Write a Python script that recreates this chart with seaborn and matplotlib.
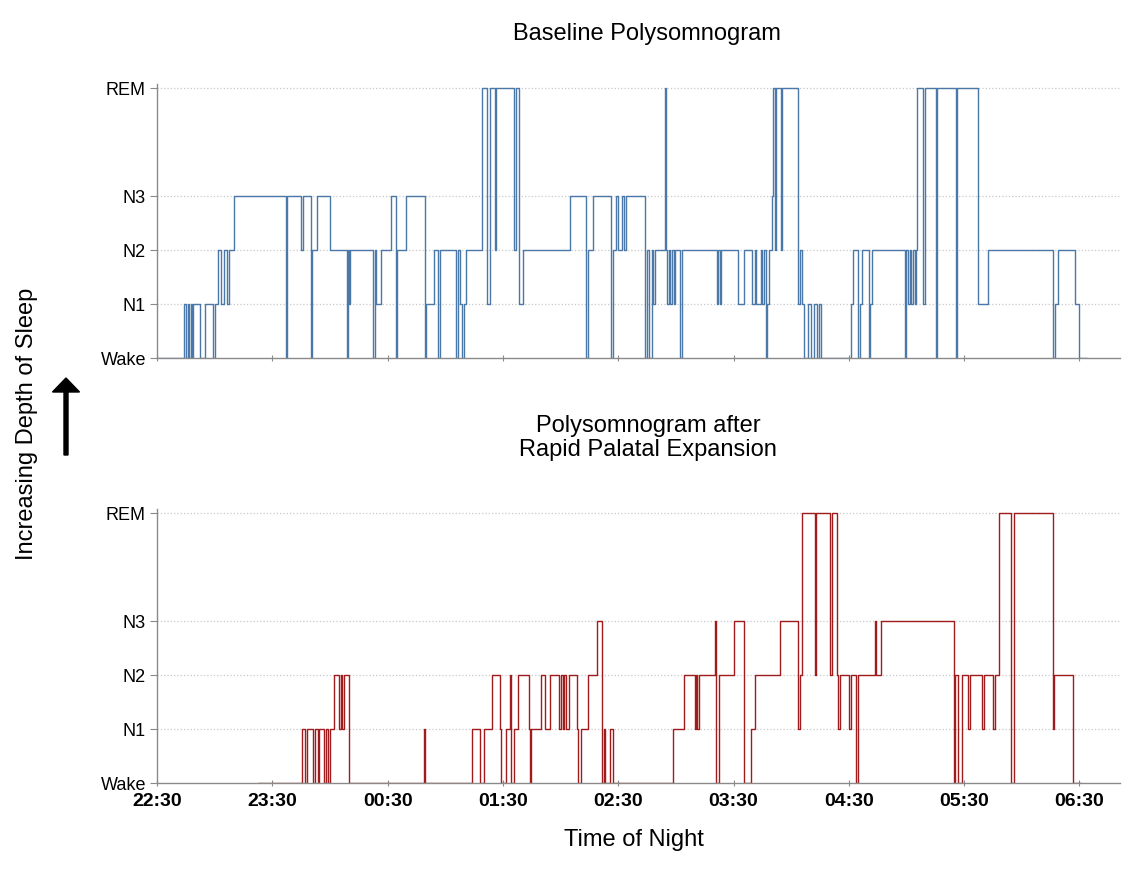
import pandas as pd
import numpy as np
import matplotlib
matplotlib.use("Agg")
import matplotlib.pyplot as plt
import seaborn as sns

# stage order on the y axis (REM sits two steps above N3)
stage_names = ["Wake", "N1", "N2", "N3", "REM"]
stage_pos = {"Wake": 0, "N1": 1, "N2": 2, "N3": 3, "REM": 5}

# minutes after 22:30 where each stage begins (last entry = end of record)
base_t = [0, 13.9, 15.1, 15.9, 16.8, 17.5, 18.2, 18.9, 22.4, 25.0, 29.3, 30.3, 31.9, 33.1,
          34.8, 36.2, 37.6, 40.0, 66.9, 67.6, 74.9, 75.7, 80.1, 80.8, 83.0, 90.0, 98.8, 99.4,
          100.0, 100.6, 112.3, 113.2, 114.2, 116.3, 121.5, 124.3, 125.1, 129.5, 139.2, 140.1,
          143.9, 146.3, 147.5, 155.8, 156.5, 157.6, 158.8, 159.5, 161.0, 169.2, 171.6, 173.3,
          175.8, 176.5, 185.8, 186.7, 188.6, 190.3, 214.9, 223.4, 224.3, 226.9, 236.4, 237.3,
          239.0, 239.9, 242.1, 243.2, 244.2, 254.1, 255.0, 256.0, 257.4, 258.3, 259.1, 264.5,
          264.9, 265.5, 266.4, 267.1, 267.8, 268.8, 269.5, 272.3, 273.3, 291.5, 292.1, 292.8,
          293.3, 302.5, 305.6, 309.7, 311.0, 311.8, 314.3, 314.9, 315.6, 316.7, 317.4, 318.2,
          320.0, 320.7, 321.4, 322.1, 324.8, 325.3, 333.8, 334.5, 335.7, 336.9, 339.0, 340.4,
          342.1, 343.4, 344.4, 345.5, 361.2, 362.1, 364.7, 365.6, 366.8, 370.4, 371.1, 372.0,
          389.0, 389.8, 390.7, 391.6, 392.4, 393.3, 394.2, 394.9, 395.5, 398.5, 399.4, 405.4,
          406.0, 415.7, 416.3, 427.1, 432.3, 466.4, 467.3, 469.0, 477.7, 479.8, 484.0]
base_s = ["Wake", "N1", "Wake", "N1", "Wake", "N1", "Wake", "N1", "Wake", "N1", "Wake", "N1", "N2", "N1",
          "N2", "N1", "N2", "N3", "Wake", "N3", "N2", "N3", "Wake", "N2", "N3", "N2", "Wake", "N2",
          "N1", "N2", "Wake", "N2", "N1", "N2", "N3", "Wake", "N2", "N3", "Wake", "N1",
          "N2", "Wake", "N2", "Wake", "N2", "N1", "Wake", "N1", "N2", "REM", "N1", "REM",
          "N2", "REM", "N2", "REM", "N1", "N2", "N3", "Wake", "N2", "N3", "Wake", "N2",
          "N3", "N2", "N3", "N2", "N3", "Wake", "N2", "Wake", "N2", "N1", "N2", "REM",
          "N2", "N1", "N2", "N1", "N2", "N1", "N2", "Wake", "N2", "N1", "N2", "N1",
          "N2", "N1", "N2", "N1", "N2", "N1", "N2", "N1", "N2", "Wake", "N1", "N2",
          "N3", "REM", "N2", "REM", "N2", "REM", "N1", "N2", "N1", "Wake", "N1", "Wake",
          "N1", "Wake", "N1", "Wake", "N1", "N2", "Wake", "N1", "N2", "Wake", "N1", "N2",
          "Wake", "N2", "N1", "N2", "N1", "N2", "N1", "N2", "REM", "N1", "REM", "Wake",
          "REM", "Wake", "REM", "N1", "N2", "Wake", "N1", "N2", "N1", "Wake", "Wake"]

rpe_t = [52.7, 75.2, 77.0, 77.8, 81.3, 82.2, 83.5, 84.4, 87.0, 87.9, 89.1, 90.0, 92.2, 94.8,
         95.7, 96.5, 97.4, 100.0, 139.0, 139.7, 164.1, 168.0, 170.1, 174.4, 178.4, 179.1, 181.5,
         183.6, 184.4, 185.5, 187.9, 193.4, 194.1, 194.8, 200.0, 201.8, 204.4, 209.2, 210.4,
         211.3, 211.8, 212.7, 214.4, 218.6, 219.1, 220.8, 224.3, 229.1, 231.6, 232.4, 233.3,
         235.6, 237.3, 268.5, 274.0, 279.8, 280.5, 281.1, 281.8, 290.5, 291.0, 292.4, 300.4,
         305.6, 308.9, 311.3, 324.3, 333.8, 334.4, 335.6, 342.2, 342.9, 350.3, 351.0, 353.8,
         354.5, 355.2, 360.2, 360.9, 363.8, 364.7, 373.4, 374.2, 376.8, 414.6, 415.5, 416.7,
         418.8, 421.9, 422.8, 429.3, 430.2, 434.9, 435.8, 438.4, 444.4, 445.8, 466.3, 467.0,
         476.8, 481.0]
rpe_s = ["Wake", "N1", "Wake", "N1", "Wake", "N1", "Wake", "N1", "Wake", "N1", "Wake", "N1", "N2", "N1",
         "N2", "N1", "N2", "Wake", "N1", "Wake", "N1", "Wake", "N1", "N2", "N1", "Wake", "N1",
         "N2", "Wake", "N1", "N2", "N1", "Wake", "N1", "N2", "N1", "N2", "N1", "N2",
         "N1", "N2", "N1", "N2", "N1", "Wake", "N1", "N2", "N3", "Wake", "N1", "Wake",
         "N1", "Wake", "N1", "N2", "N1", "N2", "N1", "N2", "N3", "Wake", "N2", "N3",
         "Wake", "N1", "N2", "N3", "N1", "N2", "REM", "N2", "REM", "N2", "REM", "N2",
         "N1", "N2", "N1", "N2", "Wake", "N2", "N3", "N2", "N3", "Wake", "N2", "Wake",
         "N2", "N1", "N2", "N1", "N2", "N1", "N2", "REM", "Wake", "REM", "N1", "N2",
         "Wake", "Wake"]

tick_min = [0, 60, 120, 180, 240, 300, 360, 420, 480]
tick_lbl = ["22:30", "23:30", "00:30", "01:30", "02:30", "03:30", "04:30", "05:30", "06:30"]

sns.set_style("white")
plt.rcParams["font.family"] = ["Liberation Sans", "DejaVu Sans"]
plt.rcParams["text.color"] = "black"
plt.rcParams["xtick.labelcolor"] = "black"
plt.rcParams["ytick.labelcolor"] = "black"

df_base = pd.DataFrame({"t": base_t, "stage": base_s})
df_base["y"] = df_base["stage"].map(stage_pos)
df_rpe = pd.DataFrame({"t": rpe_t, "stage": rpe_s})
df_rpe["y"] = df_rpe["stage"].map(stage_pos)

fig = plt.figure(figsize=(11.38, 8.72), dpi=100)
ax1 = fig.add_axes([0.138, 0.5894, 0.846, 0.314])
ax2 = fig.add_axes([0.138, 0.1020, 0.846, 0.314])

sns.lineplot(data=df_base, x="t", y="y", ax=ax1, color="#4a78a8", linewidth=1,
             drawstyle="steps-post", estimator=None, sort=False)
sns.lineplot(data=df_rpe, x="t", y="y", ax=ax2, color="#a01c1c", linewidth=1,
             drawstyle="steps-post", estimator=None, sort=False)

for ax in (ax1, ax2):
    ax.set_xlim(0, 501)
    ax.set_ylim(0, 5.07)
    ax.set_yticks([stage_pos[s] for s in stage_names])
    ax.set_yticklabels(stage_names, fontsize=13, color="black")
    ax.set_xticks(tick_min)
    ax.set_xlabel("")
    ax.set_ylabel("")
    for y in [1, 2, 3, 5]:
        ax.axhline(y, color="#c8c8c8", linestyle=":", linewidth=0.9, zorder=0)
    for side in ("top", "right"):
        ax.spines[side].set_visible(False)
    for side in ("left", "bottom"):
        ax.spines[side].set_color("#8a8a8a")
        ax.spines[side].set_linewidth(1)
    ax.tick_params(axis="y", which="both", left=True, length=5, width=0.8, color="#8a8a8a", pad=3)
    ax.tick_params(axis="x", which="both", bottom=True, direction="inout", length=5, width=0.8,
                   color="#8a8a8a", pad=5)

ax1.set_xticklabels([])
ax2.set_xticklabels(tick_lbl, fontsize=14, fontweight="bold", color="black")

fig.text(647 / 1138, 1 - 34 / 872, "Baseline Polysomnogram", ha="center", va="center", fontsize=17)
fig.text(648 / 1138, 1 - 438 / 872, "Polysomnogram after\nRapid Palatal Expansion",
         ha="center", va="center", fontsize=17, linespacing=1.15)
fig.text(634 / 1138, 1 - 840 / 872, "Time of Night", ha="center", va="center", fontsize=17)
fig.text(27 / 1138, 1 - 424 / 872, "Increasing Depth of Sleep", ha="center", va="center",
         rotation=90, fontsize=17)

# arrow pointing up next to the y label
fig.patches.append(matplotlib.patches.FancyArrow(
    66 / 1138, 1 - 455 / 872, 0, 77 / 872, width=4 / 1138, head_width=27 / 1138,
    head_length=14 / 872, length_includes_head=True, color="black",
    transform=fig.transFigure, figure=fig))

fig.savefig("out.png", dpi=100)
